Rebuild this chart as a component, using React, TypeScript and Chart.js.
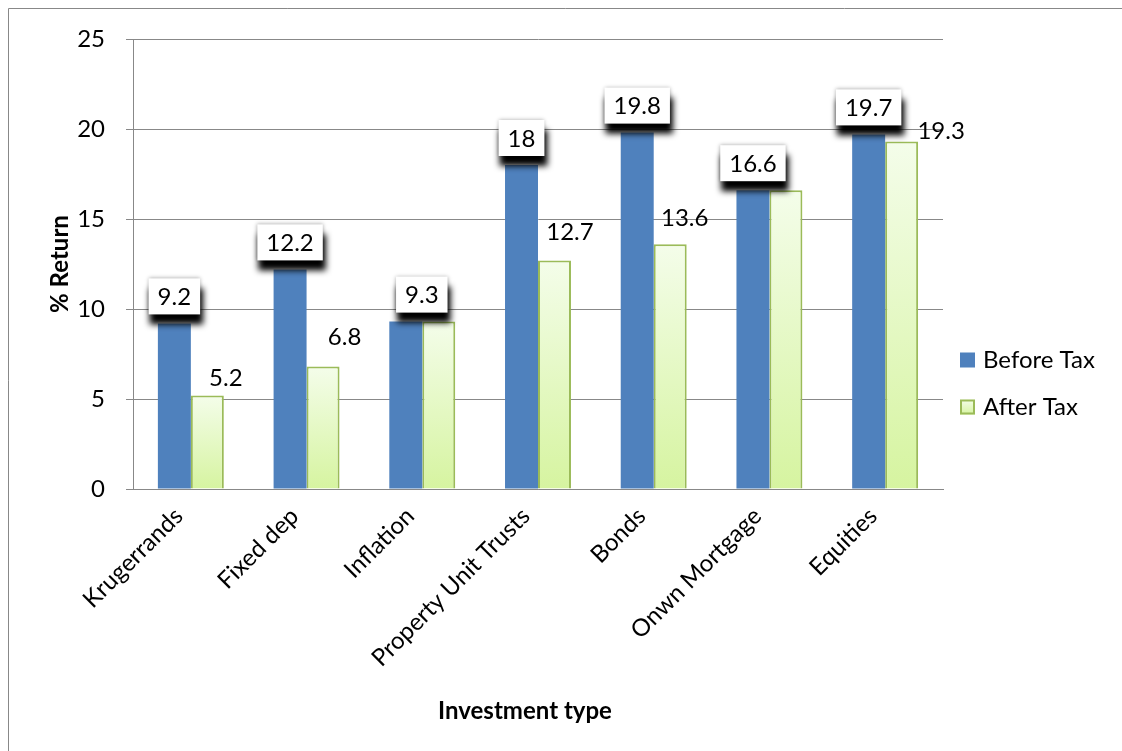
import React, { useEffect, useRef } from "react";
import { Chart, registerables } from "chart.js";

Chart.register(...registerables);

const categories = [
  "Krugerrands",
  "Fixed dep",
  "Inflation",
  "Property Unit Trusts",
  "Bonds",
  "Onwn Mortgage",
  "Equities",
];
const beforeTax = [9.2, 12.2, 9.3, 18, 19.8, 16.6, 19.7];
const afterTax = [5.2, 6.8, 9.3, 12.7, 13.6, 16.6, 19.3];
const seriesNames = ["Before Tax", "After Tax"];
const xTitle = "Investment type";
const yTitle = "% Return";
const yMin = 0;
const yMax = 25;
const yStep = 5;

// label placement tweaks (styling only)
const boxNudgeX = [0, 0, 16, 0, 0, 0, 0];
const afterLabelNudge: (number[] | null)[] = [
  [2, 17],
  [5, 29],
  null,
  [-1, 28],
  [-2, 26],
  null,
  [23, 10],
];

const FONT_FAMILY = "Lato, 'DejaVu Sans', sans-serif";
const FONT_SIZE = 24;
const BLUE = "#4F81BD";
const GREEN_BORDER = "#9BBB59";
const GRID = "#888888";

function greenGradient(ctx: CanvasRenderingContext2D, top: number, bottom: number) {
  const g = ctx.createLinearGradient(0, top, 0, bottom);
  g.addColorStop(0, "#F4FDEA");
  g.addColorStop(1, "#D6F4A0");
  return g;
}

const decorPlugin = {
  id: "decor",
  beforeDraw(chart: any) {
    const ctx = chart.ctx;
    ctx.save();
    ctx.strokeStyle = GRID;
    ctx.lineWidth = 1;
    ctx.beginPath();
    ctx.moveTo(8.5, chart.height + 5);
    ctx.lineTo(8.5, 8.5);
    ctx.lineTo(chart.width + 5, 8.5);
    ctx.stroke();
    ctx.restore();
  },
  afterDatasetsDraw(chart: any) {
    const ctx = chart.ctx;
    const font = `${FONT_SIZE}px ${FONT_FAMILY}`;
    // After-tax labels (plain text)
    const metaA = chart.getDatasetMeta(1);
    metaA.data.forEach((bar: any, i: number) => {
      const n = afterLabelNudge[i];
      if (!n) return;
      ctx.save();
      ctx.font = font;
      ctx.fillStyle = "#000";
      ctx.textAlign = "center";
      ctx.textBaseline = "middle";
      ctx.fillText(String(afterTax[i]), bar.x + bar.width / 2 + n[0], bar.y - n[1]);
      ctx.restore();
    });
    // Before-tax labels (white boxes with dark shadow)
    const metaB = chart.getDatasetMeta(0);
    metaB.data.forEach((bar: any, i: number) => {
      const text = String(beforeTax[i]);
      ctx.save();
      ctx.font = font;
      const tw = ctx.measureText(text).width;
      const w = tw + 18;
      const h = 36;
      const cx = bar.x + boxNudgeX[i];
      const bottom = bar.y - 9;
      // shadow
      ctx.filter = "blur(3px)";
      ctx.fillStyle = "#000";
      ctx.fillRect(cx - w / 2 + 1, bottom - h + 10, w + 2, h);
      ctx.filter = "none";
      // soft halo
      ctx.shadowColor = "rgba(0,0,0,0.35)";
      ctx.shadowBlur = 4;
      ctx.fillStyle = "#ffffff";
      ctx.fillRect(cx - w / 2, bottom - h, w, h);
      ctx.restore();
      ctx.save();
      ctx.font = font;
      ctx.fillStyle = "#000";
      ctx.textAlign = "center";
      ctx.textBaseline = "middle";
      ctx.fillText(text, cx, bottom - h / 2 + 1);
      ctx.restore();
    });
  },
  afterDraw(chart: any) {
    const ctx = chart.ctx;
    const font = `${FONT_SIZE}px ${FONT_FAMILY}`;
    ctx.save();
    // legend
    const lx = 960;
    const rows = [360, 407];
    ctx.fillStyle = BLUE;
    ctx.fillRect(lx, rows[0] - 7.5, 15, 15);
    ctx.fillStyle = greenGradient(ctx, rows[1] - 7.5, rows[1] + 7.5);
    ctx.fillRect(lx, rows[1] - 7.5, 15, 15);
    ctx.strokeStyle = GREEN_BORDER;
    ctx.lineWidth = 2;
    ctx.strokeRect(lx + 1, rows[1] - 6.5, 13, 13);
    ctx.font = font;
    ctx.fillStyle = "#000";
    ctx.textAlign = "left";
    ctx.textBaseline = "middle";
    ctx.fillText(seriesNames[0], 983, rows[0]);
    ctx.fillText(seriesNames[1], 983, rows[1]);
    // x axis title
    ctx.font = `bold ${FONT_SIZE}px ${FONT_FAMILY}`;
    ctx.textAlign = "center";
    ctx.fillText(xTitle, 525, 711);
    ctx.restore();
  },
};

export default function App() {
  const ref = useRef<HTMLCanvasElement | null>(null);

  useEffect(() => {
    if (!ref.current) return;
    const chart = new Chart(ref.current, {
      type: "bar",
      data: {
        labels: categories,
        datasets: [
          {
            label: seriesNames[0],
            data: beforeTax,
            backgroundColor: BLUE,
            borderWidth: 0,
            categoryPercentage: 0.57,
            barPercentage: 1,
          },
          {
            label: seriesNames[1],
            data: afterTax,
            backgroundColor: (c: any) => {
              const chart = c.chart;
              const ys = chart.scales?.y;
              if (!ys || c.parsed == null) return "#E8F9CC";
              const top = ys.getPixelForValue(c.parsed.y);
              const bottom = ys.getPixelForValue(0);
              if (!isFinite(top) || !isFinite(bottom) || top === bottom) return "#E8F9CC";
              return greenGradient(chart.ctx, top, bottom);
            },
            borderColor: GREEN_BORDER,
            borderWidth: 2,
            borderSkipped: "bottom",
            categoryPercentage: 0.57,
            barPercentage: 1,
          },
        ],
      },
      options: {
        animation: false,
        responsive: false,
        devicePixelRatio: 1,
        layout: { padding: { top: 39, right: 179, left: 0, bottom: 0 } },
        plugins: {
          legend: { display: false },
          tooltip: { enabled: false },
        },
        scales: {
          x: {
            grid: { display: false },
            border: { display: true, color: GRID, width: 1 },
            ticks: {
              autoSkip: false,
              maxRotation: 45,
              minRotation: 45,
              padding: 5,
              labelOffset: -12,
              color: "#000",
              font: { family: FONT_FAMILY, size: FONT_SIZE },
            },
            afterFit: (s: any) => {
              s.height = 262;
            },
          },
          y: {
            min: yMin,
            max: yMax,
            grid: { color: GRID, tickLength: 7, lineWidth: 1 },
            border: { display: true, color: GRID, width: 1 },
            ticks: {
              stepSize: yStep,
              padding: 21,
              color: "#000",
              font: { family: FONT_FAMILY, size: FONT_SIZE },
            },
            title: {
              display: true,
              text: yTitle,
              color: "#000",
              font: { family: FONT_FAMILY, size: FONT_SIZE, weight: "bold" },
              padding: { top: 46, bottom: 0 },
            },
            afterFit: (s: any) => {
              s.width = 133;
            },
          },
        },
      },
      plugins: [decorPlugin],
    } as any);
    return () => chart.destroy();
  }, []);

  return (
    <div style={{ position: "absolute", left: 0, top: 0, width: 1122, height: 751, background: "#fff" }}>
      <canvas ref={ref} width={1122} height={751} style={{ display: "block" }} />
    </div>
  );
}
